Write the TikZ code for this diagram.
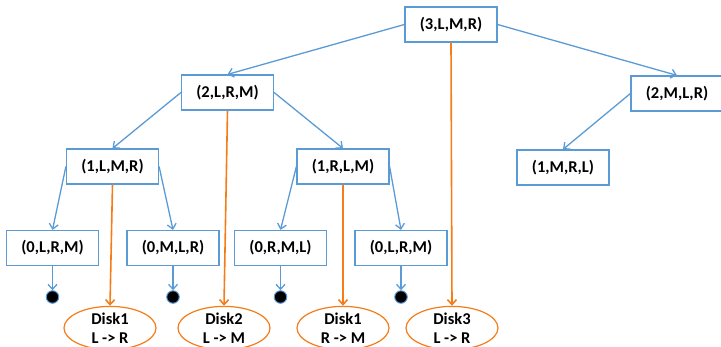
\documentclass[tikz,border=0pt]{standalone}
\usepackage{fontspec}
\setmainfont{Carlito}
\usetikzlibrary{shapes.geometric,arrows.meta}
\definecolor{boxblue}{RGB}{91,155,213}
\definecolor{diskorange}{RGB}{245,125,25}
\begin{document}
\begin{tikzpicture}[x=1pt,y=1pt,
  state/.style={rectangle, draw=boxblue, line width=1.2pt, fill=white,
    minimum width=92pt, minimum height=35pt, inner sep=0pt,
    font=\fontsize{16.5}{19}\selectfont\bfseries},
  disk/.style={ellipse, draw=diskorange, line width=1.2pt, fill=white,
    minimum width=92pt, minimum height=41pt, inner sep=0pt, align=center,
    font=\fontsize{16.5}{19}\selectfont\bfseries},
  stop/.style={circle, fill=black, draw=boxblue, line width=1pt,
    minimum size=12.5pt, inner sep=0pt},
  call/.style={-{Straight Barb[length=5pt,width=9pt]}, draw=boxblue, line width=1.3pt},
  move/.style={-{Straight Barb[length=5pt,width=9pt]}, draw=diskorange, line width=1.6pt}]
\useasboundingbox (0,0) rectangle (721,346);
% states
\node [state] (n3) at (451,321.5) {(3,L,M,R)};
\node [state] (n2a) at (227.5,253.5) {(2,L,R,M)};
\node [state] (n2b) at (677,252.5) {(2,M,L,R)};
\node [state] (n1a) at (112.5,179.5) {(1,L,M,R)};
\node [state] (n1b) at (343,179.5) {(1,R,L,M)};
\node [state] (n1c) at (563,178.5) {(1,M,R,L)};
\node [state] (n0a) at (52.5,98) {(0,L,R,M)};
\node [state] (n0b) at (173,98) {(0,M,L,R)};
\node [state] (n0c) at (280.5,98) {(0,R,M,L)};
\node [state] (n0d) at (401,98) {(0,L,R,M)};
% base cases
\node [stop] (s0a) at (52.5,49) {};
\node [stop] (s0b) at (173,49) {};
\node [stop] (s0c) at (280.5,49) {};
\node [stop] (s0d) at (401,49) {};
% disk moves
\node [disk] (d1a) at (110,18) {Disk1\\L -> R};
\node [disk] (d2) at (224,18) {Disk2\\L -> M};
\node [disk] (d1b) at (343,18) {Disk1\\R -> M};
\node [disk] (d3) at (452,18) {Disk3\\L -> R};
% recursive calls
\draw [call] (n3.west) -- (n2a.north);
\draw [call] (n3.east) -- (n2b.north);
\draw [call] (n2a.west) -- (n1a.north);
\draw [call] (n2a.east) -- (n1b.north);
\draw [call] (n2b.west) -- (n1c.north);
\draw [call] (n1a.west) -- (n0a.north);
\draw [call] (n1a.east) -- (n0b.north);
\draw [call] (n1b.west) -- (n0c.north);
\draw [call] (n1b.east) -- (n0d.north);
\draw [call] (n0a) -- (s0a);
\draw [call] (n0b) -- (s0b);
\draw [call] (n0c) -- (s0c);
\draw [call] (n0d) -- (s0d);
% moves
\draw [move] (n3.south) -- (d3.north);
\draw [move] (n2a.south) -- (d2.north);
\draw [move] (n1a.south) -- (d1a.north);
\draw [move] (n1b.south) -- (d1b.north);
\end{tikzpicture}
\end{document}
